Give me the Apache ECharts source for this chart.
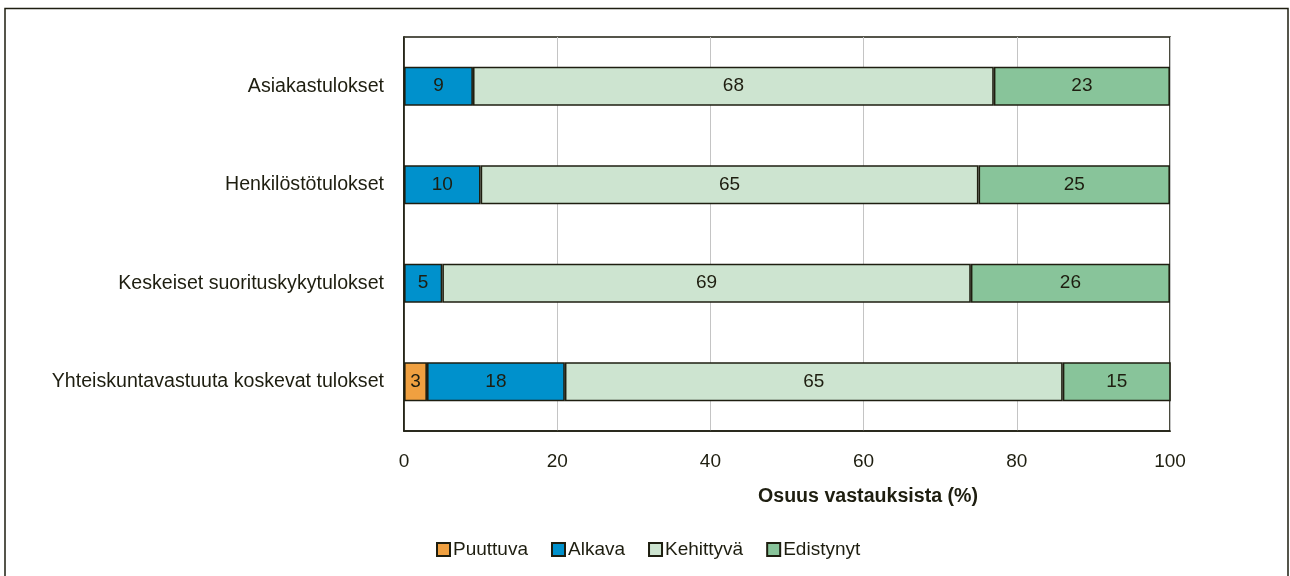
<!DOCTYPE html>
<html>
<head>
<meta charset="utf-8">
<script src="https://cdn.jsdelivr.net/npm/echarts@6/dist/echarts.min.js"></script>
<style>
  html, body { margin: 0; padding: 0; background: #fff; }
  #chart { width: 1290px; height: 576px; }
</style>
</head>
<body>
<div id="chart"></div>
<script>
// Tulosalueet, ylhäältä alas
const categories = [
  'Asiakastulokset',
  'Henkilöstötulokset',
  'Keskeiset suorituskykytulokset',
  'Yhteiskuntavastuuta koskevat tulokset'
];
// Osuudet (%) kypsyystasoittain
const puuttuva   = [null, null, null, 3];
const alkava     = [9, 10, 5, 18];
const kehittyva  = [68, 65, 69, 65];
const edistynyt  = [23, 25, 26, 15];

const seriesNames = ['Puuttuva', 'Alkava', 'Kehittyvä', 'Edistynyt'];
const seriesColors = ['#F0A040', '#0091CC', '#CDE4D0', '#88C49A'];
const xTicks = [0, 20, 40, 60, 80, 100];

const FONT = "'Liberation Sans', Arial, sans-serif";
const TEXT = '#1e1e10';
const EDGE = '#1e1e10';

const chart = echarts.init(document.getElementById('chart'));

const seriesData = [puuttuva, alkava, kehittyva, edistynyt];

chart.setOption({
  animation: false,
  textStyle: { fontFamily: FONT, color: TEXT },
  grid: {
    left: 404, right: 120, top: 37, bottom: 145,
    show: true, borderColor: EDGE, borderWidth: 1.6, backgroundColor: 'transparent'
  },
  xAxis: {
    type: 'value', min: xTicks[0], max: xTicks[xTicks.length - 1], interval: 20,
    axisLine: { show: true, lineStyle: { color: EDGE, width: 1.6 } },
    axisTick: { show: false },
    axisLabel: { fontSize: 19, color: TEXT, margin: 21, fontFamily: FONT },
    splitLine: { show: true, lineStyle: { color: '#c4c4c4', width: 1 } }
  },
  yAxis: {
    type: 'category', data: categories, inverse: true,
    axisLine: { show: true, lineStyle: { color: EDGE, width: 1.6 } },
    axisTick: { show: false },
    axisLabel: { fontSize: 19.6, color: TEXT, margin: 20, fontFamily: FONT }
  },
  legend: {
    data: seriesNames,
    left: 431, top: 535,
    itemWidth: 13, itemHeight: 13, itemGap: 23,
    icon: 'rect',
    textStyle: { fontSize: 19, color: TEXT, fontFamily: FONT, padding: [0, 0, 0, -2] }
  },
  series: seriesNames.map((name, i) => ({
    name,
    type: 'bar',
    stack: 'total',
    barWidth: 39,
    data: seriesData[i],
    itemStyle: { color: seriesColors[i], borderColor: EDGE, borderWidth: 1.6 },
    label: {
      show: true, position: 'inside', fontSize: 19, color: TEXT, fontFamily: FONT,
      formatter: p => (p.value == null ? '' : String(p.value))
    }
  })),
  graphic: [
    {
      type: 'rect', silent: true,
      shape: { x: 5, y: 8.5, width: 1283, height: 600 },
      style: { fill: 'none', stroke: EDGE, lineWidth: 1.5 }
    },
    {
      type: 'text', x: 868, y: 497,
      style: {
        text: 'Osuus vastauksista (%)',
        font: "bold 19.6px " + FONT, fill: TEXT,
        align: 'center', verticalAlign: 'middle'
      }
    }
  ]
});
</script>
</body>
</html>
